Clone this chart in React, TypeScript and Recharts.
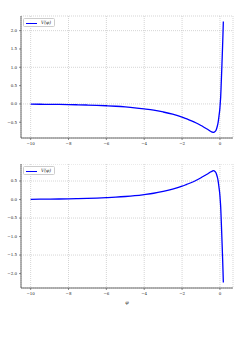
import React from 'react';
import { LineChart, Line, XAxis, YAxis, CartesianGrid, Legend } from 'recharts';

const phi = [-10, -9.5, -9, -8.5, -8, -7.5, -7, -6.5, -6, -5.5, -5, -4.5, -4, -3.5, -3, -2.5, -2, -1.75, -1.5, -1.25, -1, -0.8, -0.6, -0.5, -0.4, -0.35, -0.3, -0.25, -0.2, -0.15, -0.1, -0.05, 0, 0.02, 0.04, 0.06, 0.08, 0.1, 0.12, 0.14, 0.16, 0.18];
const vTop = [-0.007, -0.009, -0.011, -0.014, -0.018, -0.024, -0.03, -0.039, -0.05, -0.064, -0.082, -0.105, -0.135, -0.17, -0.22, -0.28, -0.36, -0.41, -0.46, -0.52, -0.59, -0.65, -0.71, -0.745, -0.77, -0.775, -0.77, -0.75, -0.71, -0.63, -0.52, -0.33, -0.1, 0.05, 0.2, 0.45, 0.72, 1.0, 1.28, 1.58, 1.9, 2.25];
const vBottom = [0.007, 0.009, 0.011, 0.014, 0.018, 0.024, 0.03, 0.039, 0.05, 0.064, 0.082, 0.105, 0.135, 0.17, 0.22, 0.28, 0.36, 0.41, 0.46, 0.52, 0.59, 0.65, 0.71, 0.745, 0.77, 0.78, 0.775, 0.75, 0.71, 0.63, 0.52, 0.33, 0.1, -0.05, -0.2, -0.45, -0.72, -1.0, -1.28, -1.58, -1.9, -2.24];
const xTicks = [-10, -8, -6, -4, -2, 0];
const yTicksTop = [-0.5, 0, 0.5, 1, 1.5, 2];
const yTicksBottom = [-2, -1.5, -1, -0.5, 0, 0.5];
const legendLabel = 'V(φ)';
const xLabel = 'φ';

const topData = phi.map((p, i) => ({ phi: p, v: vTop[i] }));
const bottomData = phi.map((p, i) => ({ phi: p, v: vBottom[i] }));

const FONT = 'DejaVu Serif';
const fmtX = (v: number) => (v < 0 ? '\u2212' + Math.abs(v) : String(v));
const fmtY = (v: number) => (v < 0 ? '\u2212' + Math.abs(v).toFixed(1) : v.toFixed(1));
const tickStyle = { fontSize: 4, fontFamily: FONT, fill: '#222' };
const spine = '#444';

const LegendBox = () => (
  <div style={{ width: 32, height: 9, border: '0.6px solid #ccc', borderRadius: 1.5, background: 'rgba(255,255,255,0.85)', position: 'relative', boxSizing: 'border-box' }}>
    <div style={{ position: 'absolute', left: 2, top: 4, width: 11, height: 1.4, background: '#0000ff' }} />
    <div style={{ position: 'absolute', left: 17, top: 1.2, fontSize: 4.5, fontFamily: FONT, fontStyle: 'italic', color: '#222', lineHeight: '6px', whiteSpace: 'nowrap' }}>{legendLabel}</div>
  </div>
);

const Panel = ({ data, yDomain, yTicks, height, margin, xAxisHeight, showLabel, legendTop }: any) => (
  <LineChart width={245} height={height} data={data} margin={margin}>
    <CartesianGrid stroke="#b8b8b8" strokeDasharray="1 1" strokeWidth={0.6} />
    <XAxis
      dataKey="phi"
      type="number"
      domain={[-10.51, 0.69]}
      ticks={xTicks}
      tickFormatter={fmtX}
      tick={tickStyle}
      tickSize={2}
      tickMargin={2}
      height={xAxisHeight}
      axisLine={{ stroke: spine, strokeWidth: 0.8 }}
      tickLine={{ stroke: spine, strokeWidth: 0.6 }}
      allowDataOverflow
      label={showLabel ? { value: xLabel, position: 'insideBottom', offset: 14, style: { fontSize: 5, fontFamily: FONT, fontStyle: 'italic', fill: '#222' } } : undefined}
    />
    <XAxis xAxisId="top" orientation="top" dataKey="phi" type="number" domain={[-10.51, 0.69]} height={0} tick={false} tickLine={false} axisLine={{ stroke: spine, strokeWidth: 0.8 }} />
    <YAxis
      type="number"
      domain={yDomain}
      ticks={yTicks}
      tickFormatter={fmtY}
      tick={tickStyle}
      tickSize={2}
      tickMargin={2}
      width={21}
      axisLine={{ stroke: spine, strokeWidth: 0.8 }}
      tickLine={{ stroke: spine, strokeWidth: 0.6 }}
      allowDataOverflow
    />
    <YAxis yAxisId="right" orientation="right" type="number" domain={yDomain} width={0} tick={false} tickLine={false} axisLine={{ stroke: spine, strokeWidth: 0.8 }} />
    <Legend content={() => <LegendBox />} wrapperStyle={{ position: 'absolute', left: 23, top: legendTop, width: 32, height: 9 }} />
    <Line dataKey="v" type="monotone" stroke="#0000ff" strokeWidth={1.3} dot={false} isAnimationActive={false} />
  </LineChart>
);

export default function App() {
  return (
    <div style={{ position: 'absolute', left: 0, top: 0, width: 245, height: 352, background: '#fff' }}>
      <div style={{ position: 'absolute', left: 0, top: 0 }}>
        <Panel data={topData} yDomain={[-0.93, 2.4]} yTicks={yTicksTop} height={164} margin={{ top: 16, right: 12, bottom: 0, left: 0 }} xAxisHeight={17} showLabel={false} legendTop={18} />
      </div>
      <div style={{ position: 'absolute', left: 0, top: 164 }}>
        <Panel data={bottomData} yDomain={[-2.39, 0.96]} yTicks={yTicksBottom} height={188} margin={{ top: 0, right: 12, bottom: 25, left: 0 }} xAxisHeight={30} showLabel={true} legendTop={2} />
      </div>
    </div>
  );
}
